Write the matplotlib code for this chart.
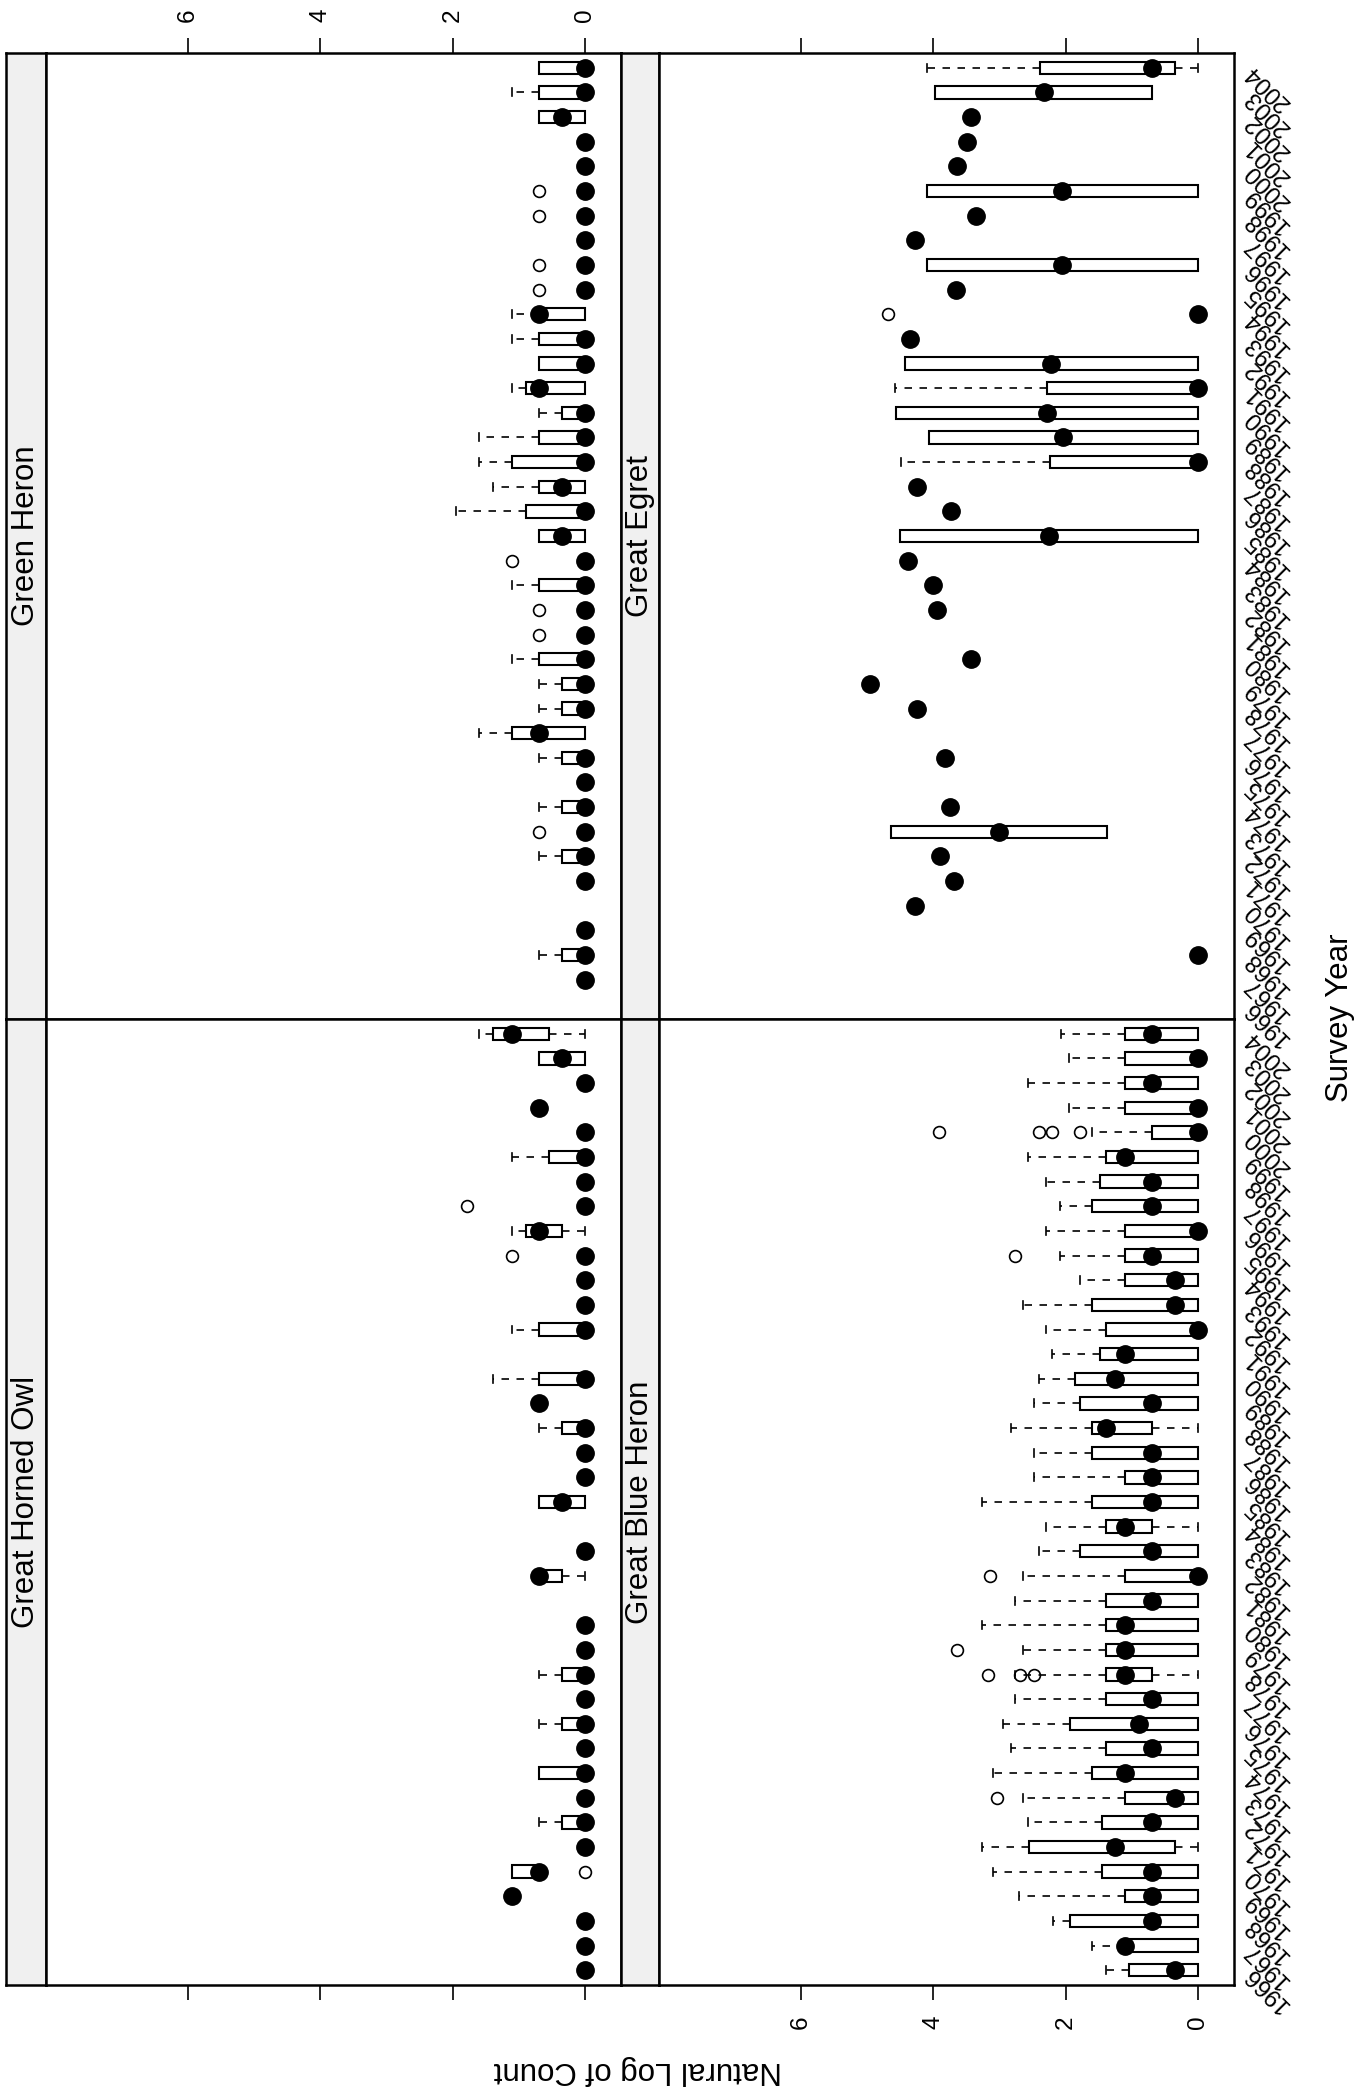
import numpy as np
import matplotlib
matplotlib.use("Agg")
import matplotlib.pyplot as plt

plt.rcParams['font.family'] = ['Liberation Sans', 'DejaVu Sans']

nan = np.nan
YEARS = list(range(1966, 2005))

# ---- Green Heron (1966 .. 2004) ----
gh_med = [nan, 0, 0, 0, nan, 0, 0, 0, 0, 0, 0, .693, 0, 0, 0, 0, 0, 0, 0, .347,
          0, .347, 0, 0, 0, .693, 0, 0, .693, 0, 0, 0, 0, 0, 0, 0, .347, 0, 0]
gh_q1 = [nan, 0, 0, 0, nan, 0, 0, 0, 0, 0, 0, 0, 0, 0, 0, 0, 0, 0, 0, 0,
         0, 0, 0, 0, 0, 0, 0, 0, 0, 0, 0, 0, 0, 0, 0, 0, 0, 0, 0]
gh_q3 = [nan, 0, .347, 0, nan, 0, .347, 0, .347, 0, .347, 1.099, .347, .347, .693, 0, 0, .693, 0, .693,
         .896, .693, 1.099, .693, .347, .896, .693, .693, .693, 0, 0, 0, 0, 0, 0, 0, .693, .693, .693]
gh_lo = [nan, 0, 0, 0, nan, 0, 0, 0, 0, 0, 0, 0, 0, 0, 0, 0, 0, 0, 0, 0,
         0, 0, 0, 0, 0, 0, 0, 0, 0, 0, 0, 0, 0, 0, 0, 0, 0, 0, 0]
gh_hi = [nan, 0, .693, 0, nan, 0, .693, 0, .693, 0, .693, 1.609, .693, .693, 1.099, 0, 0, 1.099, 0, .693,
         1.946, 1.386, 1.609, 1.609, .693, 1.099, .693, 1.099, 1.099, 0, 0, 0, 0, 0, 0, 0, .693, 1.099, .693]
gh_out = {1973: [.693], 1981: [.693], 1982: [.693], 1984: [1.099],
          1995: [.693], 1996: [.693], 1998: [.693], 1999: [.693]}

# ---- Great Horned Owl ----
gho_med = [0, 0, 0, 1.099, .693, 0, 0, 0, 0, 0, 0, 0, 0, 0, 0, nan, .693, 0, nan, .347,
           0, 0, 0, .693, 0, nan, 0, 0, 0, 0, .693, 0, 0, 0, 0, .693, 0, .347, 1.099]
gho_q1 = [0, 0, 0, 1.099, .693, 0, 0, 0, 0, 0, 0, 0, 0, 0, 0, nan, .347, 0, nan, 0,
          0, 0, 0, .693, 0, nan, 0, 0, 0, 0, .347, 0, 0, 0, 0, .693, 0, 0, .549]
gho_q3 = [0, 0, 0, 1.099, 1.099, 0, .347, 0, .693, 0, .347, 0, .347, 0, 0, nan, .693, 0, nan, .693,
          0, 0, .347, .693, .693, nan, .693, 0, 0, 0, .896, 0, 0, .549, 0, .693, 0, .693, 1.386]
gho_lo = [0, 0, 0, 1.099, .693, 0, 0, 0, 0, 0, 0, 0, 0, 0, 0, nan, 0, 0, nan, 0,
          0, 0, 0, .693, 0, nan, 0, 0, 0, 0, 0, 0, 0, 0, 0, .693, 0, 0, 0]
gho_hi = [0, 0, 0, 1.099, 1.099, 0, .693, 0, .693, 0, .693, 0, .693, 0, 0, nan, .693, 0, nan, .693,
          0, 0, .693, .693, 1.386, nan, 1.099, 0, 0, 0, 1.099, 0, 0, 1.099, 0, .693, 0, .693, 1.609]
gho_out = {1970: [0], 1995: [1.099], 1997: [1.792]}

# ---- Great Egret ----
ge_med = [nan, nan, 0, nan, 4.28, 3.68, 3.90, 3.00, 3.75, nan, 3.82, nan, 4.25, 4.95, 3.43, nan, 3.94, 4.00, 4.38, 2.25,
          3.73, 4.25, 0, 2.04, 2.28, 0, 2.22, 4.35, 0, 3.66, 2.05, 4.28, 3.36, 2.05, 3.64, 3.49, 3.43, 2.33, .693]
ge_q1 = [nan, nan, 0, nan, 4.28, 3.68, 3.90, 1.38, 3.75, nan, 3.82, nan, 4.25, 4.95, 3.43, nan, 3.94, 4.00, 4.38, 0,
         3.73, 4.25, 0, 0, 0, 0, 0, 4.35, 0, 3.66, 0, 4.28, 3.36, 0, 3.64, 3.49, 3.43, .693, .347]
ge_q3 = [nan, nan, 0, nan, 4.28, 3.68, 3.90, 4.63, 3.75, nan, 3.82, nan, 4.25, 4.95, 3.43, nan, 3.94, 4.00, 4.38, 4.50,
         3.73, 4.25, 2.24, 4.07, 4.56, 2.29, 4.42, 4.35, 0, 3.66, 4.09, 4.28, 3.36, 4.09, 3.64, 3.49, 3.43, 3.97, 2.39]
ge_lo = [nan, nan, 0, nan, 4.28, 3.68, 3.90, 1.38, 3.75, nan, 3.82, nan, 4.25, 4.95, 3.43, nan, 3.94, 4.00, 4.38, 0,
         3.73, 4.25, 0, 0, 0, 0, 0, 4.35, 0, 3.66, 0, 4.28, 3.36, 0, 3.64, 3.49, 3.43, .693, 0]
ge_hi = [nan, nan, 0, nan, 4.28, 3.68, 3.90, 4.63, 3.75, nan, 3.82, nan, 4.25, 4.95, 3.43, nan, 3.94, 4.00, 4.38, 4.50,
         3.73, 4.25, 4.49, 4.07, 4.56, 4.58, 4.42, 4.35, 0, 3.66, 4.09, 4.28, 3.36, 4.09, 3.64, 3.49, 3.43, 3.97, 4.09]
ge_out = {1994: [4.68]}

# ---- Great Blue Heron ----
gbh_med = [.347, 1.099, .693, .693, .693, 1.25, .693, .347, 1.099, .693, .89, .693, 1.099, 1.099, 1.099, .693, 0, .693, 1.099, .693,
           .693, .693, 1.386, .693, 1.25, 1.099, 0, .347, .347, .693, 0, .693, .693, 1.099, 0, 0, .693, 0, .693]
gbh_q1 = [0, 0, 0, 0, 0, .347, 0, 0, 0, 0, 0, 0, .693, 0, 0, 0, 0, 0, .693, 0,
          0, 0, .693, 0, 0, 0, 0, 0, 0, 0, 0, 0, 0, 0, 0, 0, 0, 0, 0]
gbh_q3 = [1.04, 1.099, 1.94, 1.099, 1.45, 2.56, 1.45, 1.099, 1.609, 1.386, 1.94, 1.386, 1.386, 1.386, 1.386, 1.386, 1.099, 1.79, 1.386, 1.609,
          1.099, 1.609, 1.609, 1.79, 1.86, 1.49, 1.386, 1.609, 1.099, 1.099, 1.099, 1.609, 1.49, 1.386, .693, 1.099, 1.099, 1.099, 1.099]
gbh_lo = [0, 0, 0, 0, 0, 0, 0, 0, 0, 0, 0, 0, 0, 0, 0, 0, 0, 0, 0, 0,
          0, 0, 0, 0, 0, 0, 0, 0, 0, 0, 0, 0, 0, 0, 0, 0, 0, 0, 0]
gbh_hi = [1.386, 1.609, 2.197, 2.71, 3.09, 3.26, 2.565, 2.64, 3.09, 2.83, 2.94, 2.77, 2.77, 2.64, 3.26, 2.77, 2.64, 2.40, 2.30, 3.26,
          2.48, 2.48, 2.83, 2.48, 2.40, 2.20, 2.30, 2.64, 1.79, 2.08, 2.30, 2.08, 2.30, 2.565, 1.609, 1.946, 2.565, 1.946, 2.079]
gbh_out = {1973: [3.04], 1978: [2.48, 2.69, 3.18], 1979: [3.64], 1982: [3.14],
           1995: [2.77], 2000: [1.79, 2.20, 2.40, 3.91]}

W, H = 1358, 2098
fig = plt.figure(figsize=(W / 100, H / 100), dpi=100)
fig.patch.set_facecolor("white")


def px_rect(x0, y0, x1, y1):
    return [x0 / W, 1 - y1 / H, (x1 - x0) / W, (y1 - y0) / H]


# strip x0, panel x0, panel x1  /  panel y0, y1
COLS = [(6.3, 46, 620.5), (620.5, 659, 1233.5)]
ROWS = [(53, 1019), (1019, 1985)]

PANELS = [
    ("Green Heron", 0, 0, gh_med, gh_q1, gh_q3, gh_lo, gh_hi, gh_out),
    ("Great Egret", 1, 0, ge_med, ge_q1, ge_q3, ge_lo, ge_hi, ge_out),
    ("Great Horned Owl", 0, 1, gho_med, gho_q1, gho_q3, gho_lo, gho_hi, gho_out),
    ("Great Blue Heron", 1, 1, gbh_med, gbh_q1, gbh_q3, gbh_lo, gbh_hi, gbh_out),
]

FS_AX = 17.5
FS_LAB = 22.5
LW_FRAME = 1.8

for name, c, r, med, q1, q3, lo, hi, out in PANELS:
    sx0, px0, px1 = COLS[c]
    py0, py1 = ROWS[r]

    # strip (on the left side, rotated)
    sax = fig.add_axes(px_rect(sx0, py0, px0, py1))
    sax.set_facecolor("#f0f0f0")
    sax.set_xticks([])
    sax.set_yticks([])
    for sp in sax.spines.values():
        sp.set_linewidth(LW_FRAME)
    sax.text(0.5, 0.5, name, rotation=90, ha="center", va="center",
             fontsize=FS_LAB, transform=sax.transAxes)

    ax = fig.add_axes(px_rect(px0, py0, px1, py1))
    stats, pos = [], []
    for i, yr in enumerate(YEARS):
        if np.isnan(med[i]):
            continue
        stats.append(dict(med=med[i], q1=q1[i], q3=q3[i], whislo=lo[i], whishi=hi[i],
                          fliers=out.get(yr, [])))
        pos.append(yr)
    ax.bxp(stats, positions=pos, widths=0.5, capwidths=0.32, orientation="horizontal",
           patch_artist=True, showfliers=True, manage_ticks=False,
           boxprops=dict(facecolor="white", edgecolor="black", linewidth=1.5),
           whiskerprops=dict(color="black", linewidth=1.2, linestyle=(0, (4.5, 4.5))),
           capprops=dict(color="black", linewidth=1.2),
           medianprops=dict(linewidth=0),
           flierprops=dict(marker="o", markerfacecolor="none", markeredgecolor="black",
                           markersize=8.5, markeredgewidth=1.2))
    ax.plot(med, YEARS, "o", color="black", markersize=12.5, linestyle="none", zorder=5)

    ax.set_xlim(8.135, -0.53)
    ax.set_ylim(1966 - 0.6, 2004 + 0.6)
    for sp in ax.spines.values():
        sp.set_linewidth(LW_FRAME)

    # count axis (horizontal after rotation)
    ax.set_xticks([0, 2, 4, 6])
    if r == 0:
        ax.tick_params(axis="x", which="both", top=True, bottom=False, labelbottom=False,
                       labeltop=(c == 0), direction="out", length=11, width=1.2,
                       pad=11, labelsize=FS_AX, labelrotation=90)
    else:
        ax.tick_params(axis="x", which="both", top=False, bottom=True, labeltop=False,
                       labelbottom=(c == 1), direction="out", length=11, width=1.2,
                       pad=11, labelsize=FS_AX, labelrotation=90)

    # year axis (vertical after rotation)
    ax.set_yticks(YEARS)
    if c == 1:
        ax.set_yticklabels([str(y) for y in YEARS])
        ax.tick_params(axis="y", left=False, right=False, labelleft=False, labelright=True,
                       length=0, pad=10.5, labelsize=FS_AX)
        for lbl in ax.get_yticklabels():
            lbl.set_rotation(135)
            lbl.set_rotation_mode("anchor")
            lbl.set_horizontalalignment("right")
            lbl.set_verticalalignment("center")
    else:
        ax.tick_params(axis="y", left=False, right=False, labelleft=False, labelright=False)

fig.text(1340 / W, 1 - 1018 / H, "Survey Year", rotation=90, ha="center", va="center",
         fontsize=FS_LAB)
fig.text(638 / W, 1 - 2070 / H, "Natural Log of Count", rotation=180, ha="center",
         va="center", fontsize=FS_LAB)

fig.savefig("out.png", dpi=100, facecolor="white")
